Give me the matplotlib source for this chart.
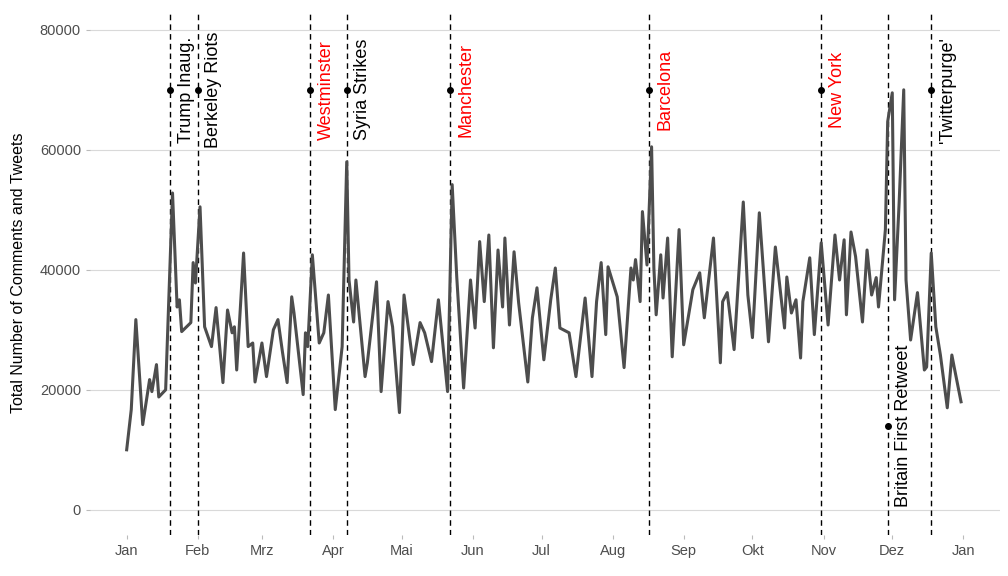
import matplotlib
matplotlib.use("Agg")
import matplotlib.pyplot as plt
import datetime as dt

plt.rcParams['font.family'] = ['Liberation Sans', 'DejaVu Sans']

day_offsets = [0,2,4,7,10,11,13,14,17,20,22,23,24,28,29,30,32,34,37,39,42,44,46,47,48,51,53,55,56,59,61,64,66,68,70,72,73,77,78,79,81,84,86,88,91,94,96,97,99,100,104,105,109,111,114,116,119,121,125,128,130,133,136,140,142,144,147,150,152,154,156,158,160,162,164,165,167,169,171,175,177,179,182,185,187,189,193,196,200,203,205,207,209,210,214,217,220,221,222,224,225,227,229,230,231,233,234,236,238,241,243,247,250,252,256,259,260,262,265,269,271,273,276,280,283,287,288,290,292,294,295,298,300,303,306,309,311,313,314,316,318,321,323,325,327,328,331,332,334,335,337,339,340,342,345,348,349,351,353,355,358,360,361,364]
counts = [10000,16700,31700,14200,21700,19700,24200,18800,20000,52800,33800,35000,29700,31200,41200,37800,50500,30500,27200,33700,21200,33300,29500,30500,23300,42800,27200,27800,21300,27800,22200,30000,31700,26200,21200,35500,32800,19200,29500,27200,42500,27800,29500,35800,16700,27200,58000,38300,31300,38300,22200,24500,38000,19700,34700,30500,16200,35800,24200,31200,29500,24700,35000,19700,54200,38800,20300,38300,30300,44700,34700,45800,27000,43300,33800,45300,30800,43000,34500,21300,32000,37000,25000,35000,40300,30300,29500,22200,35300,22200,34700,41200,29200,40500,35500,23700,40300,38300,41700,34700,49700,40800,60500,40300,32500,42500,35300,45300,25500,46700,27500,36700,39500,32000,45300,24500,34700,36200,26700,51300,35800,28700,49500,28000,43800,30300,38800,32800,35000,25300,34700,42000,29200,44500,30800,45800,38300,45000,32500,46300,42200,31300,43300,35800,38700,33800,46700,64700,69500,35000,51200,70000,38300,28300,36200,23300,23800,42800,30500,25800,17000,25800,23800,18000]

event_labels = ["Trump Inaug.", "Berkeley Riots", "Westminster", "Syria Strikes", "Manchester",
                "Barcelona", "New York", "Britain First Retweet", "'Twitterpurge'"]
event_dates = ["2017-01-20", "2017-02-01", "2017-03-22", "2017-04-07", "2017-05-22",
               "2017-08-17", "2017-10-31", "2017-11-29", "2017-12-18"]
event_colors = ["black", "black", "red", "black", "red", "red", "red", "black", "black"]
event_yvals = [70000, 70000, 70000, 70000, 70000, 70000, 70000, 14000, 70000]

month_labels = ["Jan", "Feb", "Mrz", "Apr", "Mai", "Jun", "Jul", "Aug", "Sep", "Okt", "Nov", "Dez", "Jan"]

start = dt.date(2017, 1, 1)
dates = [start + dt.timedelta(days=d) for d in day_offsets]

fig = plt.figure(figsize=(10.08, 5.76), dpi=100)
ax = fig.add_axes([90/1008, 41/576, 910/1008, 525/576])
ax.plot(dates, counts, color="#4d4d4d", lw=2.2, zorder=3)

for lab, ds, c, yv in zip(event_labels, event_dates, event_colors, event_yvals):
    d = dt.date.fromisoformat(ds)
    ax.axvline(d, color="black", ls=(0, (4, 3)), lw=1, zorder=2)
    ax.plot([d], [yv], "o", color="black", ms=4, zorder=4)
    ax.text(d + dt.timedelta(days=7), yv, lab, rotation=90, color=c, fontsize=13,
            ha="center", va="center", zorder=5)

ticks = [dt.date(2017 + (m // 12), m % 12 + 1, 1) for m in range(13)]
ax.set_xticks(ticks)
ax.set_xticklabels(month_labels)
ax.set_xlim(start - dt.timedelta(days=16), start + dt.timedelta(days=381))
ax.set_ylim(-4200, 83300)
ax.set_yticks([0, 20000, 40000, 60000, 80000])
ax.set_yticklabels(["0", "20000", "40000", "60000", "80000"])
ax.grid(axis="y", color="#d9d9d9", lw=0.8)
ax.set_axisbelow(True)
for s in ax.spines.values():
    s.set_visible(False)
ax.tick_params(labelsize=10.5, length=3, color="#bbbbbb", labelcolor="#4d4d4d")
ax.set_ylabel("Total Number of Comments and Tweets", fontsize=11.5, color="black", labelpad=10)
fig.savefig("out.png", dpi=100)
